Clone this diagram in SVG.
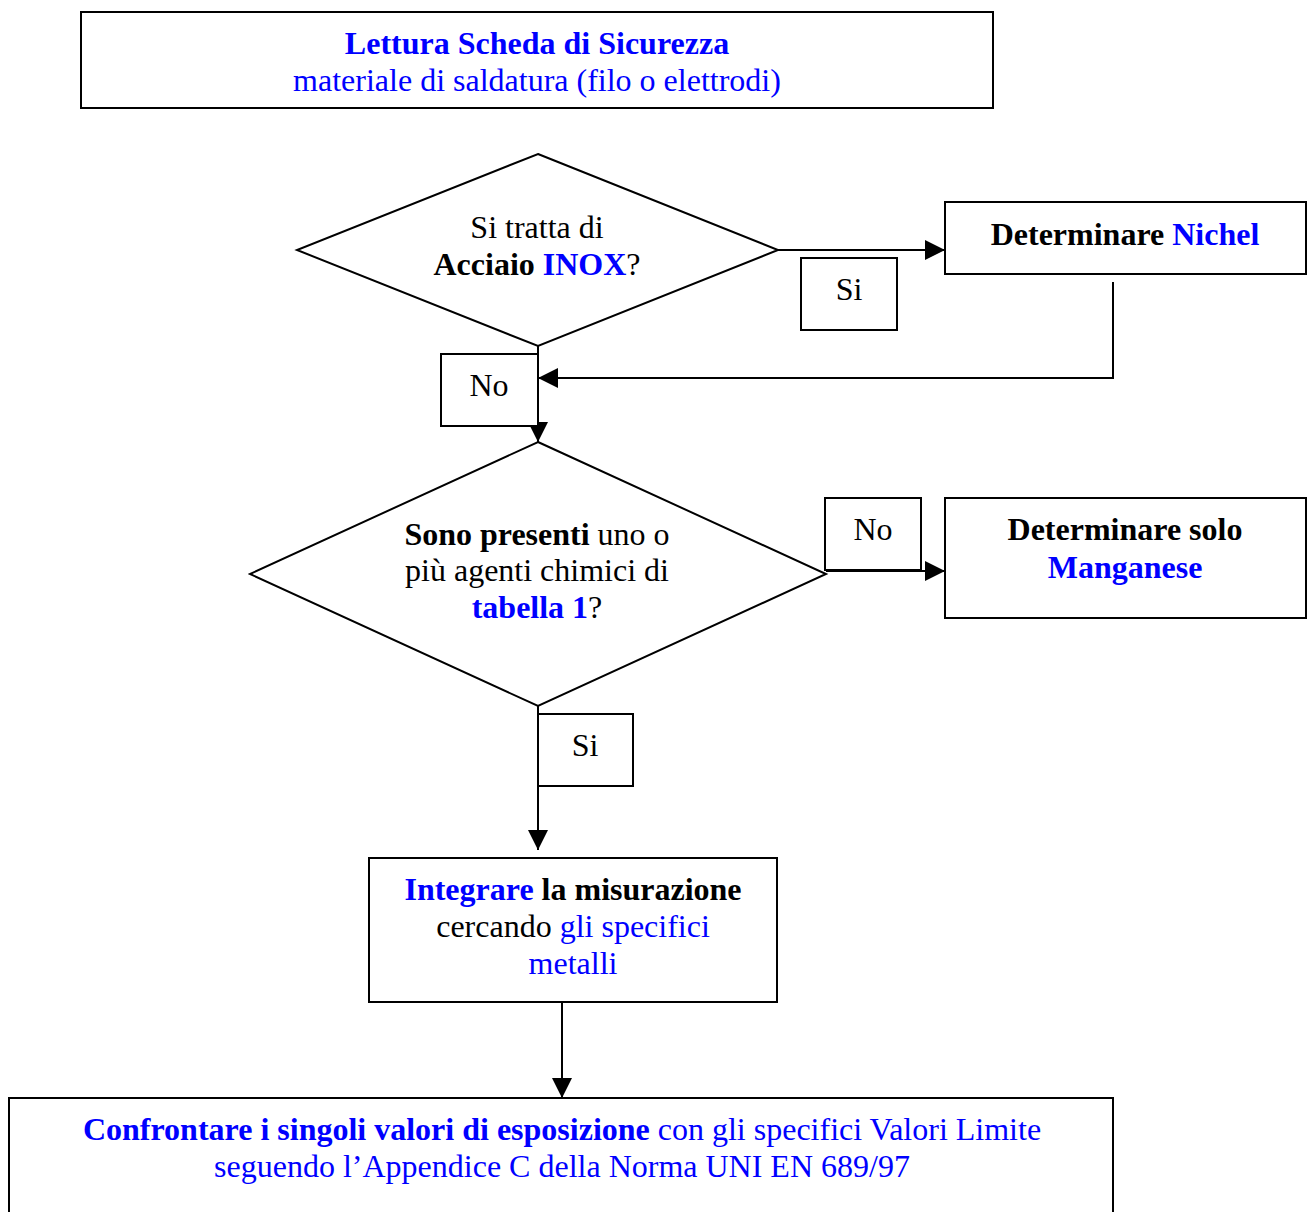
<svg xmlns="http://www.w3.org/2000/svg" width="1314" height="1212" viewBox="0 0 1314 1212" font-family="'Liberation Serif', 'Times New Roman', serif">
<style>
.box{fill:#fff;stroke:#000;stroke-width:2}
.ln{fill:none;stroke:#000;stroke-width:2}
.t{font-family:"Liberation Serif","Times New Roman",serif;font-size:32px;fill:#000;text-anchor:middle}
.b{font-weight:bold}
.bl{fill:#0000ff}
</style>
<defs>
<marker id="ah" markerWidth="20" markerHeight="20" refX="20" refY="10" orient="auto" markerUnits="userSpaceOnUse">
<path d="M0,0 L20,10 L0,20 Z" fill="#000"/>
</marker>
</defs>
<g id="connectors">
<path class="ln" d="M778,250 H945" marker-end="url(#ah)"/>
<path class="ln" d="M1113,282 V378 H538" marker-end="url(#ah)"/>
<path class="ln" d="M538,346 V442" marker-end="url(#ah)"/>
<path class="ln" d="M826,571 H945" marker-end="url(#ah)"/>
<path class="ln" d="M538,706 V850" marker-end="url(#ah)"/>
<path class="ln" d="M562,1002 V1098" marker-end="url(#ah)"/>
</g>
<g id="n-lettura">
<rect class="box" x="81" y="12" width="912" height="96"/>
<text x="537" y="54" class="t b bl">Lettura Scheda di Sicurezza</text>
<text x="537" y="91" class="t bl">materiale di saldatura (filo o elettrodi)</text>
</g>
<g id="n-inox">
<polygon class="box" points="538,154 778,250 538,346 297,250"/>
<text x="537" y="238" class="t">Si tratta di</text>
<text x="537" y="275" class="t"><tspan class="b">Acciaio </tspan><tspan class="b bl">INOX</tspan>?</text>
</g>
<g id="n-si1">
<rect class="box" x="801" y="258" width="96" height="72"/>
<text x="849" y="300" class="t">Si</text>
</g>
<g id="n-nichel">
<rect class="box" x="945" y="202" width="361" height="72"/>
<text x="1125" y="245" class="t b">Determinare <tspan class="bl">Nichel</tspan></text>
</g>
<g id="n-no1">
<rect class="box" x="441" y="354" width="97" height="72"/>
<text x="489" y="396" class="t">No</text>
</g>
<g id="n-tabella">
<polygon class="box" points="538,442 826,574 538,706 250,574"/>
<text x="537" y="545" class="t"><tspan class="b">Sono presenti</tspan> uno o</text>
<text x="537" y="581" class="t">più agenti chimici di</text>
<text x="537" y="618" class="t"><tspan class="b bl">tabella 1</tspan>?</text>
</g>
<g id="n-no2">
<rect class="box" x="825" y="498" width="96" height="72"/>
<text x="873" y="540" class="t">No</text>
</g>
<g id="n-manganese">
<rect class="box" x="945" y="498" width="361" height="120"/>
<text x="1125" y="540" class="t b">Determinare solo</text>
<text x="1125" y="578" class="t b bl">Manganese</text>
</g>
<g id="n-si2">
<rect class="box" x="538" y="714" width="95" height="72"/>
<text x="585" y="756" class="t">Si</text>
</g>
<g id="n-integrare">
<rect class="box" x="369" y="858" width="408" height="144"/>
<text x="573" y="900" class="t b"><tspan class="bl">Integrare</tspan> la misurazione</text>
<text x="573" y="937" class="t">cercando <tspan class="bl">gli specifici</tspan></text>
<text x="573" y="974" class="t bl">metalli</text>
</g>
<g id="n-confrontare">
<rect class="box" x="9" y="1098" width="1104" height="130"/>
<text x="562" y="1140" class="t bl"><tspan class="b">Confrontare i singoli valori di esposizione</tspan> con gli specifici Valori Limite</text>
<text x="562" y="1177" class="t bl">seguendo l’Appendice C della Norma UNI EN 689/97</text>
</g>
</svg>
